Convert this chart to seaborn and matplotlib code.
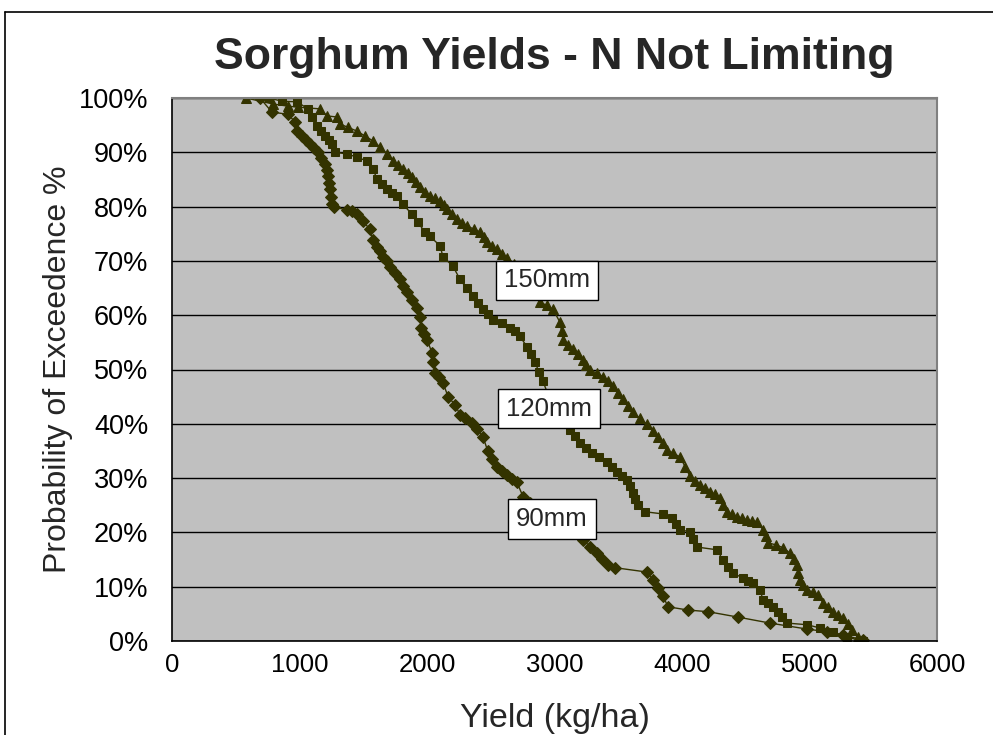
import numpy as np
import pandas as pd
import matplotlib
matplotlib.use("Agg")
import matplotlib.pyplot as plt
import matplotlib.ticker as mticker
import seaborn as sns

# Exceedance curves: yield (kg/ha) vs probability of exceedence (%)
yield_90 = [690, 784, 910, 965, 980, 1020, 1050, 1082, 1115, 1145, 1170, 1200, 1212, 1224,
            1232, 1239, 1248, 1255, 1271, 1373,
            1410, 1451, 1498, 1553, 1576, 1610, 1630, 1655, 1685, 1710, 1750, 1788, 1815,
            1843, 1880, 1922, 1945, 1953, 1975, 2000, 2039, 2050, 2063, 2095, 2125, 2165,
            2220, 2259, 2300, 2353, 2395, 2439, 2478, 2510, 2549, 2590, 2627, 2665, 2706,
            2753, 2810, 2850, 2886, 2960, 3043, 3130, 3224, 3280, 3333, 3375, 3420, 3474,
            3725, 3772, 3810, 3851, 3890, 4047, 4204, 4439, 4690, 4980, 5137, 5263, 5420]
prob_90 = [100, 97.4, 97.0, 95.6, 93.9, 93.0, 92.2, 91.5, 90.7, 90.0, 89.0, 87.8, 86.7, 85.6,
           84.4, 83.2, 81.8, 80.4, 79.9, 79.4,
           79.1, 78.6, 77.3, 75.8, 73.9, 72.6, 71.8, 70.8, 69.9, 68.8, 67.8, 66.6, 65.4,
           64.2, 62.8, 61.4, 59.6, 57.7, 56.6, 55.5, 53.1, 51.3, 49.4, 48.6, 47.6, 45.0,
           43.5, 41.7, 41.0, 40.2, 39.0, 37.6, 34.9, 33.5, 32.1, 31.3, 30.6, 29.9, 29.2,
           26.6, 25.5, 24.8, 24.2, 22.8, 21.4, 20.0, 18.6, 17.4, 16.2, 15.1, 14.0, 13.5,
           12.7, 11.3, 9.8, 8.3, 6.3, 5.7, 5.4, 4.4, 3.3, 2.2, 1.7, 1.1, 0.2]

yield_120 = [761, 863, 980, 1067, 1098, 1137, 1170, 1200, 1230, 1255, 1278, 1373, 1451, 1529,
             1576, 1608, 1645,
             1686, 1725, 1765, 1812, 1882, 1929, 1984, 2024, 2102, 2125, 2204, 2259, 2310, 2361,
             2400, 2439, 2480, 2518, 2585, 2651, 2690, 2729, 2784, 2815, 2847, 2880, 2910,
             2949, 2995, 3043, 3085, 3122, 3160, 3200, 3245, 3294, 3350, 3412, 3450, 3490,
             3530, 3569, 3595, 3616, 3635, 3655, 3710, 3851, 3922, 3955, 3984, 4063, 4090,
             4118, 4274, 4322, 4360, 4400, 4478, 4515, 4557, 4612, 4635, 4675, 4714, 4750,
             4784, 4824, 4980, 5082, 5184, 5294, 5420]
prob_120 = [100, 99.4, 99.3, 98.0, 96.5, 94.8, 93.9, 93.0, 92.2, 91.5, 90.0, 89.7, 89.1, 88.4,
            86.9, 85.1, 84.2,
            83.2, 82.5, 81.9, 80.4, 78.6, 77.1, 75.3, 74.5, 72.8, 70.8, 69.0, 66.6, 65.0, 63.5,
            62.3, 61.1, 60.2, 59.2, 58.5, 57.7, 57.0, 56.1, 54.2, 52.8, 51.3, 49.5, 47.8,
            45.4, 43.5, 41.7, 40.3, 38.9, 37.7, 36.5, 35.6, 34.7, 33.9, 33.0, 32.1, 31.2,
            30.4, 29.7, 28.5, 27.3, 26.2, 25.1, 23.8, 23.4, 22.7, 21.6, 20.5, 20.1, 18.7,
            17.3, 16.8, 14.9, 13.7, 12.5, 11.6, 11.1, 10.7, 9.4, 7.6, 7.0, 6.3, 5.3,
            4.4, 3.3, 3.0, 2.4, 1.7, 0.7, 0.0]

yield_150 = [580, 792, 910, 988, 1161, 1216, 1294, 1318, 1380, 1451, 1514, 1576, 1631, 1686,
             1733, 1770, 1812, 1850, 1882, 1915, 1945, 1985, 2024, 2060, 2102, 2130, 2157,
             2195, 2235, 2275, 2314, 2365, 2416, 2445, 2471, 2510, 2549, 2590, 2627, 2680,
             2729, 2808, 2886, 2940, 2988, 3043, 3055, 3067, 3105, 3145, 3185, 3224, 3250,
             3278, 3330, 3380, 3420, 3459, 3500, 3537, 3575, 3616, 3670, 3725, 3770, 3812,
             3850, 3882, 3930, 3984, 4025, 4063, 4100, 4141, 4180, 4220, 4260, 4298, 4325,
             4353, 4390, 4431, 4470, 4510, 4550, 4588, 4635, 4655, 4675, 4735, 4792, 4847,
             4875, 4902, 4912, 4925, 4950, 4980, 5025, 5067, 5106, 5145, 5184, 5225, 5263,
             5300, 5333, 5380, 5435]
prob_150 = [100, 98.9, 98.5, 98.3, 98.0, 96.7, 96.5, 95.2, 94.6, 93.9, 93.0, 92.1, 91.0, 89.7,
            88.4, 87.6, 86.9, 86.1, 85.4, 84.5, 83.6, 82.7, 81.9, 81.5, 81.0, 80.3, 79.5,
            78.6, 77.7, 77.0, 76.4, 75.9, 75.3, 74.4, 73.4, 72.8, 72.1, 71.3, 70.6, 69.5,
            68.1, 64.8, 62.4, 61.8, 61.1, 58.7, 57.1, 55.5, 54.6, 53.7, 52.8, 51.8, 50.9,
            50.0, 49.3, 48.7, 47.8, 46.9, 45.7, 44.5, 43.3, 42.1, 41.0, 39.9, 38.7, 37.6,
            36.4, 35.2, 34.6, 33.9, 32.1, 30.3, 29.5, 28.8, 28.1, 27.5, 27.0, 26.4, 25.1,
            23.8, 23.3, 22.9, 22.6, 22.3, 22.1, 22.0, 20.5, 19.3, 18.1, 17.7, 17.2, 16.2,
            15.1, 14.0, 12.6, 11.3, 10.3, 9.4, 9.0, 8.5, 7.0, 6.2, 5.4, 4.8, 4.2,
            3.1, 2.0, 0.7, 0.0]

series_names = ["90mm", "120mm", "150mm"]
label_yield = [2980, 2957, 2941]
label_prob = [22.5, 42.8, 66.4]

df = pd.concat([
    pd.DataFrame({"Yield": yield_90, "Prob": prob_90, "Rain": "90mm"}),
    pd.DataFrame({"Yield": yield_120, "Prob": prob_120, "Rain": "120mm"}),
    pd.DataFrame({"Yield": yield_150, "Prob": prob_150, "Rain": "150mm"}),
], ignore_index=True)

sns.set_style("white")
plt.rcParams["font.family"] = ["Liberation Sans", "DejaVu Sans"]

W, H = 993, 735
fig = plt.figure(figsize=(W / 100, H / 100), dpi=100)
ax = fig.add_axes([172 / W, 1 - 641 / H, (937 - 172) / W, (641 - 98) / H])
ax.set_facecolor("#C0C0C0")

dark = "#333300"
sns.lineplot(data=df, x="Yield", y="Prob", hue="Rain", style="Rain",
             palette={n: dark for n in series_names},
             markers={"90mm": "D", "120mm": "s", "150mm": "^"},
             dashes=False, sort=False, estimator=None, linewidth=1.0,
             markersize=6, markeredgecolor=dark, legend=False, ax=ax)
for line, ms in zip(ax.lines, [6.5, 6.0, 7.5]):
    line.set_markersize(ms)

ax.set_xlim(0, 6000)
ax.set_ylim(0, 100)
ax.xaxis.set_major_locator(mticker.MultipleLocator(1000))
ax.xaxis.set_minor_locator(mticker.MultipleLocator(100))
ax.yaxis.set_major_locator(mticker.MultipleLocator(10))
ax.yaxis.set_major_formatter(mticker.FuncFormatter(lambda v, p: f"{v:.0f}%"))
ax.grid(axis="y", color="black", linewidth=1.0)
ax.set_axisbelow(True)

for s in ["top", "right"]:
    ax.spines[s].set_color("#808080")
    ax.spines[s].set_linewidth(1.5)
for s in ["left", "bottom"]:
    ax.spines[s].set_color("black")
    ax.spines[s].set_linewidth(1.2)

ax.tick_params(axis="x", which="major", direction="inout", length=12, width=1,
               labelsize=18.5, pad=3, colors="black")
ax.tick_params(axis="x", which="minor", direction="in", length=5, width=1, colors="black")
ax.tick_params(axis="y", which="major", direction="out", length=7, width=1,
               labelsize=19.5, pad=10, colors="black")
ax.tick_params(axis="y", which="minor", left=False)

ax.set_xlabel("Yield (kg/ha)", fontsize=24.5)
ax.set_ylabel("Probability of Exceedence %", fontsize=23)
ax.xaxis.label.set_va("center")
ax.yaxis.label.set_va("center")
ax.xaxis.set_label_coords(0.5, (641 - 718) / (641 - 98))
ax.yaxis.set_label_coords((58 - 172) / (937 - 172), 0.5)

for name, lx, ly in zip(series_names, label_yield, label_prob):
    ax.text(lx, ly, name, fontsize=18.5, ha="center", va="center", zorder=5,
            bbox=dict(boxstyle="square,pad=0.3", facecolor="white", edgecolor="black", linewidth=1))

fig.text(554 / W, 1 - 57 / H, "Sorghum Yields - N Not Limiting", fontsize=32,
         fontweight="bold", ha="center", va="center")

# chart frame
fig.add_artist(plt.Line2D([5 / W, 5 / W], [0, 1 - 12 / H], color="black", linewidth=1.2,
                          transform=fig.transFigure))
fig.add_artist(plt.Line2D([5 / W, 1], [1 - 12 / H, 1 - 12 / H], color="black", linewidth=1.2,
                          transform=fig.transFigure))

fig.savefig("out.png", dpi=100)
